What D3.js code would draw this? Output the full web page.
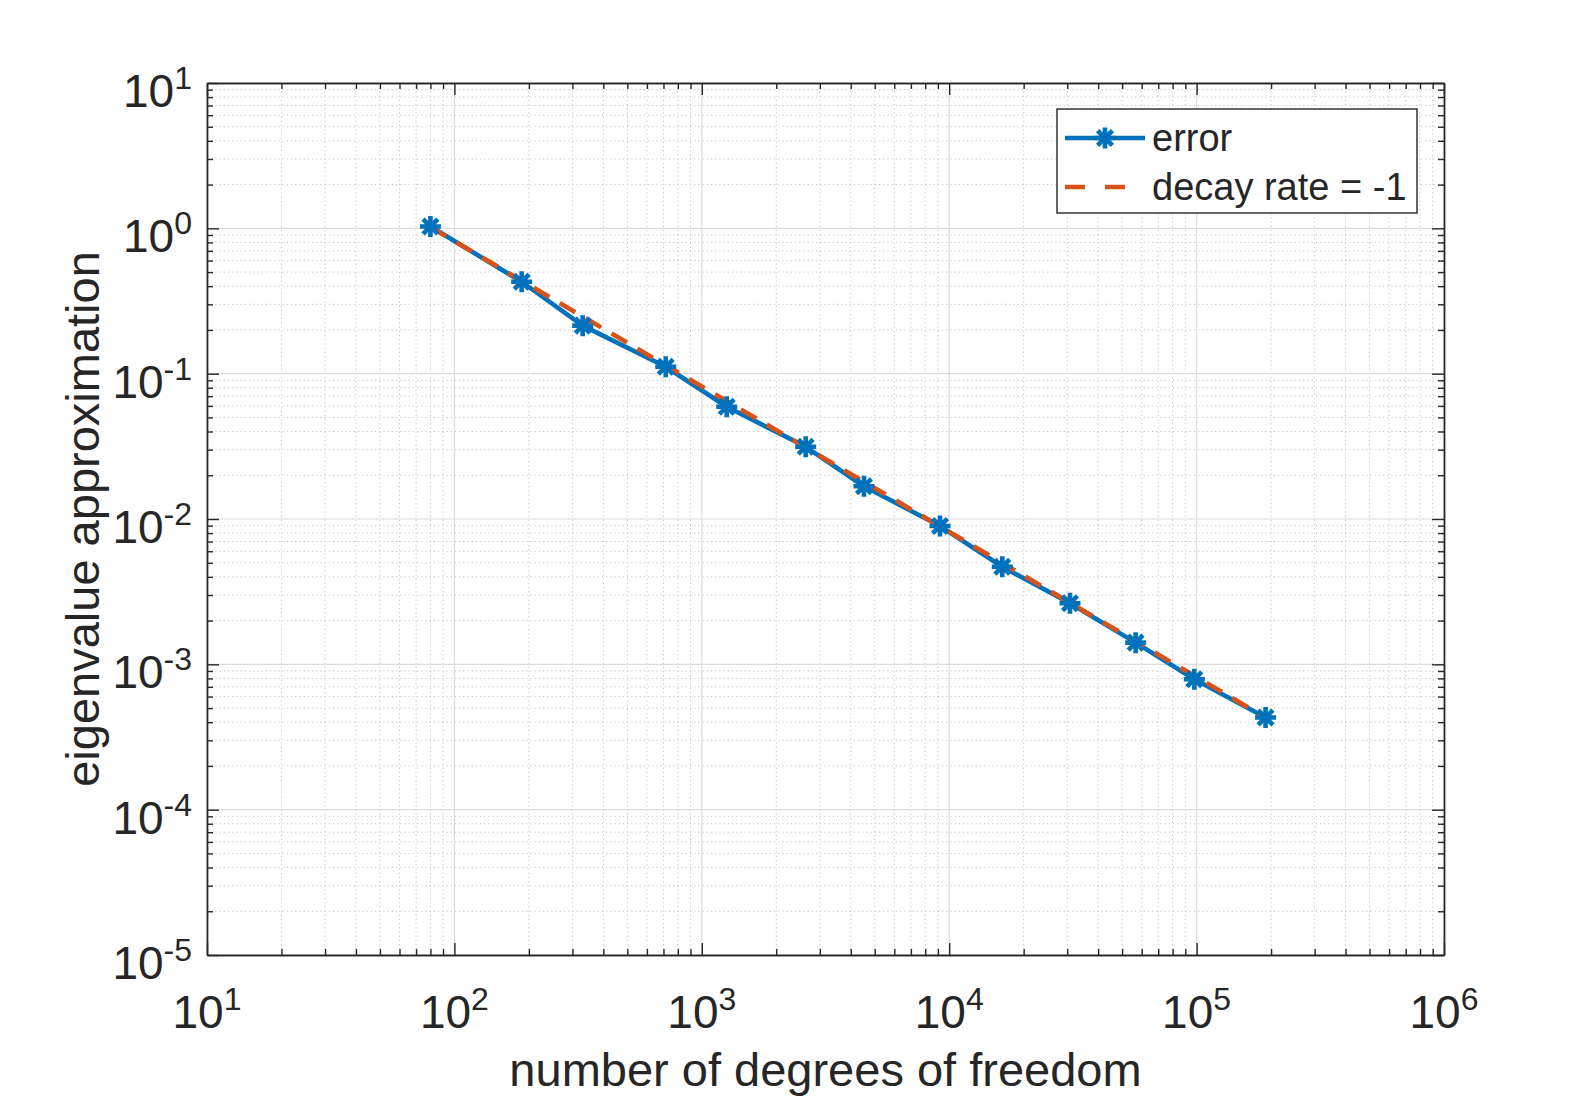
<!DOCTYPE html>
<html>
<head>
<meta charset="utf-8">
<script src="https://cdn.jsdelivr.net/npm/d3@7"></script>
<style>
  body { margin: 0; background: #fff; }
  svg { display: block; }
  text { font-family: "Liberation Sans", Arial, Helvetica, sans-serif; fill: #262626; }
</style>
</head>
<body>
<svg id="chart" width="1596" height="1097"></svg>
<script>
// data
const dofs = [80, 187, 330, 715, 1261, 2630, 4524, 9180, 16390, 30770, 56700, 97900, 190000];
const errors = [1.03, 0.429, 0.214, 0.1116, 0.0592, 0.0314, 0.0168, 0.00894, 0.00469, 0.00263, 0.00141, 0.00079, 0.000431];

// reference line, slope -1
const rateX = [80, 190000];
const rateY = [1.02, 0.00043];

const xTickExp = [1, 2, 3, 4, 5, 6];
const yTickExp = [-5, -4, -3, -2, -1, 0, 1];
const legendLabels = ["error", "decay rate = -1"];

const BLUE = "#0072BD";
const ORANGE = "#D95319";
const AXIS = "#262626";

(() => {
  const width = 1596;
  const height = 1097;
  const margin = { top: 83, right: 152, bottom: 142, left: 207 };
  const innerWidth = width - margin.left - margin.right;
  const innerHeight = height - margin.top - margin.bottom;

  const svg = d3.select("#chart");
  const g = svg.append("g")
    .attr("transform", `translate(${margin.left}, ${margin.top})`);

  const x = d3.scaleLog()
    .domain([10, 1e6])
    .range([0, innerWidth]);

  const y = d3.scaleLog()
    .domain([1e-5, 10])
    .range([innerHeight, 0]);

  const xMajor = xTickExp.map(e => Math.pow(10, e));
  const yMajor = yTickExp.map(e => Math.pow(10, e));
  const xMinor = [];
  xTickExp.slice(0, -1).forEach(e => d3.range(2, 10).forEach(m => xMinor.push(m * Math.pow(10, e))));
  const yMinor = [];
  yTickExp.slice(0, -1).forEach(e => d3.range(2, 10).forEach(m => yMinor.push(m * Math.pow(10, e))));

  // minor grid (dotted)
  const grid = g.append("g");
  grid.selectAll(".xminor")
    .data(xMinor)
    .join("line")
    .attr("x1", d => x(d)).attr("x2", d => x(d))
    .attr("y1", 0).attr("y2", innerHeight)
    .attr("stroke", "#c4c4c4")
    .attr("stroke-width", 1)
    .attr("stroke-dasharray", "1.2,3");
  grid.selectAll(".yminor")
    .data(yMinor)
    .join("line")
    .attr("y1", d => y(d)).attr("y2", d => y(d))
    .attr("x1", 0).attr("x2", innerWidth)
    .attr("stroke", "#c4c4c4")
    .attr("stroke-width", 1)
    .attr("stroke-dasharray", "1.2,3");

  // major grid
  grid.selectAll(".xmajor")
    .data(xMajor)
    .join("line")
    .attr("x1", d => x(d)).attr("x2", d => x(d))
    .attr("y1", 0).attr("y2", innerHeight)
    .attr("stroke", "#dcdcdc")
    .attr("stroke-width", 1.2);
  grid.selectAll(".ymajor")
    .data(yMajor)
    .join("line")
    .attr("y1", d => y(d)).attr("y2", d => y(d))
    .attr("x1", 0).attr("x2", innerWidth)
    .attr("stroke", "#dcdcdc")
    .attr("stroke-width", 1.2);

  // data lines
  const line = d3.line()
    .x(d => x(d[0]))
    .y(d => y(d[1]));

  g.append("path")
    .datum(dofs.map((d, i) => [d, errors[i]]))
    .attr("fill", "none")
    .attr("stroke", BLUE)
    .attr("stroke-width", 4.6)
    .attr("stroke-linejoin", "round")
    .attr("d", line);

  g.append("path")
    .datum(rateX.map((d, i) => [d, rateY[i]]))
    .attr("fill", "none")
    .attr("stroke", ORANGE)
    .attr("stroke-width", 4.6)
    .attr("stroke-dasharray", "18,12")
    .attr("d", line);

  // asterisk markers
  const star = r => {
    const a = r * Math.SQRT1_2;
    return `M${-r},0L${r},0M0,${-r}L0,${r}M${-a},${-a}L${a},${a}M${-a},${a}L${a},${-a}`;
  };
  g.selectAll(".marker")
    .data(dofs.map((d, i) => [d, errors[i]]))
    .join("path")
    .attr("transform", d => `translate(${x(d[0])},${y(d[1])})`)
    .attr("d", star(10.5))
    .attr("fill", "none")
    .attr("stroke", BLUE)
    .attr("stroke-width", 4.6);

  // axes with inward ticks on all four sides
  const styleAxis = sel => {
    sel.selectAll("path.domain").attr("stroke", AXIS).attr("stroke-width", 1.4);
    sel.selectAll(".tick line").attr("stroke", AXIS).attr("stroke-width", 1.4);
    sel.selectAll(".tick text").remove();
  };
  const addAxis = (gen, values, size, tr) => {
    g.append("g")
      .attr("transform", tr)
      .call(gen.tickValues(values).tickSizeInner(size).tickSizeOuter(0).tickFormat(""))
      .call(styleAxis);
  };
  addAxis(d3.axisBottom(x), xMajor, -12, `translate(0,${innerHeight})`);
  addAxis(d3.axisBottom(x), xMinor, -6, `translate(0,${innerHeight})`);
  addAxis(d3.axisTop(x), xMajor, -12, "translate(0,0)");
  addAxis(d3.axisTop(x), xMinor, -6, "translate(0,0)");
  addAxis(d3.axisLeft(y), yMajor, -12, "translate(0,0)");
  addAxis(d3.axisLeft(y), yMinor, -6, "translate(0,0)");
  addAxis(d3.axisRight(y), yMajor, -12, `translate(${innerWidth},0)`);
  addAxis(d3.axisRight(y), yMinor, -6, `translate(${innerWidth},0)`);

  // tick labels 10^k
  const tickLabel = (sel) => {
    sel.append("tspan")
      .style("font-size", "46px")
      .text("10");
    sel.append("tspan")
      .attr("dy", -18)
      .style("font-size", "32px")
      .text(d => d);
  };

  g.selectAll(".xlab")
    .data(xTickExp)
    .join("text")
    .attr("x", d => x(Math.pow(10, d)))
    .attr("y", innerHeight + 73)
    .attr("text-anchor", "middle")
    .call(tickLabel);

  g.selectAll(".ylab")
    .data(yTickExp)
    .join("text")
    .attr("x", -15)
    .attr("y", d => y(Math.pow(10, d)) + 24)
    .attr("text-anchor", "end")
    .call(tickLabel);

  // axis labels
  g.append("text")
    .attr("x", innerWidth / 2)
    .attr("y", innerHeight + 131)
    .attr("text-anchor", "middle")
    .style("font-size", "47px")
    .text("number of degrees of freedom");

  g.append("text")
    .attr("transform", "rotate(-90)")
    .attr("x", -innerHeight / 2)
    .attr("y", -108)
    .attr("text-anchor", "middle")
    .style("font-size", "47px")
    .text("eigenvalue approximation");

  // legend
  const lg = svg.append("g").attr("transform", "translate(1057,109)");
  lg.append("rect")
    .attr("width", 360)
    .attr("height", 104)
    .attr("fill", "#fff")
    .attr("stroke", AXIS)
    .attr("stroke-width", 1.4);

  const rows = [29, 78];
  lg.append("line")
    .attr("x1", 8).attr("x2", 88)
    .attr("y1", rows[0]).attr("y2", rows[0])
    .attr("stroke", BLUE).attr("stroke-width", 4.6);
  lg.append("path")
    .attr("transform", `translate(48,${rows[0]})`)
    .attr("d", star(10.5))
    .attr("fill", "none")
    .attr("stroke", BLUE)
    .attr("stroke-width", 4.6);
  lg.append("line")
    .attr("x1", 8).attr("x2", 88)
    .attr("y1", rows[1]).attr("y2", rows[1])
    .attr("stroke", ORANGE).attr("stroke-width", 4.6)
    .attr("stroke-dasharray", "20,20");

  lg.selectAll(".legtext")
    .data(legendLabels)
    .join("text")
    .attr("x", 95)
    .attr("y", (d, i) => rows[i] + 13)
    .style("font-size", "38px")
    .text(d => d);
})();
</script>
</body>
</html>
